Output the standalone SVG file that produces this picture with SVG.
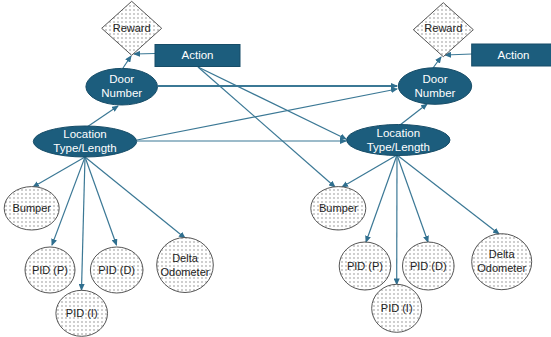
<svg xmlns="http://www.w3.org/2000/svg" width="551" height="337" viewBox="0 0 551 337">
<defs>
<pattern id="dots" width="4" height="4" patternUnits="userSpaceOnUse">
<rect width="4" height="4" fill="#ffffff"/>
<circle cx="2" cy="2" r="0.7" fill="#7a7a7a"/>
</pattern>
<marker id="arr" markerWidth="7" markerHeight="6" refX="6" refY="3" orient="auto" markerUnits="userSpaceOnUse">
<path d="M0,0 L7,3 L0,6 z" fill="#2f6f8f"/>
</marker>
<style>
.dark{fill:#1c5d7d;stroke:#174d68;stroke-width:1}
.dot{fill:url(#dots);stroke:#555555;stroke-width:1}
.wt{font-family:"Liberation Sans",Arial,sans-serif;font-size:11.5px;fill:#ffffff;text-anchor:middle}
.bt{font-family:"Liberation Sans",Arial,sans-serif;font-size:11px;fill:#222222;text-anchor:middle}
.edge{stroke:#3b7895;stroke-width:1.2;fill:none;marker-end:url(#arr)}
</style>
</defs>
<rect width="551" height="337" fill="#ffffff"/>
<g id="connectors">
<line class="edge" x1="87" y1="127" x2="118" y2="106"/>
<line class="edge" x1="123" y1="68" x2="131" y2="56"/>
<line class="edge" x1="155" y1="53.5" x2="134" y2="54"/>
<line class="edge" x1="158" y1="86" x2="397" y2="86" style="stroke-width:1.8"/>
<line class="edge" x1="137" y1="140" x2="397" y2="89"/>
<line class="edge" x1="137" y1="141" x2="346" y2="141"/>
<line class="edge" x1="198" y1="67" x2="346" y2="139"/>
<line class="edge" x1="198" y1="67" x2="335" y2="187"/>
<line class="edge" x1="85" y1="157" x2="33" y2="187"/>
<line class="edge" x1="85" y1="157" x2="52" y2="245"/>
<line class="edge" x1="85" y1="157" x2="81.5" y2="290"/>
<line class="edge" x1="85" y1="157" x2="116.5" y2="245"/>
<line class="edge" x1="85" y1="157" x2="185" y2="238"/>
<line class="edge" x1="400" y1="125" x2="427" y2="104"/>
<line class="edge" x1="433" y1="68" x2="441" y2="57"/>
<line class="edge" x1="472" y1="54" x2="445" y2="55"/>
<line class="edge" x1="397" y1="155" x2="342" y2="187"/>
<line class="edge" x1="397" y1="155" x2="366" y2="242"/>
<line class="edge" x1="397" y1="155" x2="396.7" y2="284.5"/>
<line class="edge" x1="397" y1="155" x2="428" y2="242"/>
<line class="edge" x1="397" y1="155" x2="499" y2="234"/>
</g>
<g id="reward-left">
<polygon class="dot" points="131.7,1.3 161.7,28.3 131.7,55.3 101.7,28.3"/>
<text class="bt" x="131.7" y="32">Reward</text>
</g>
<g id="action-left">
<rect class="dark" x="155" y="44.5" width="85" height="22"/>
<text class="wt" x="197.5" y="59">Action</text>
</g>
<g id="door-left">
<ellipse class="dark" cx="121.7" cy="86.7" rx="35.8" ry="18.3"/>
<text class="wt" x="121.7" y="83">Door</text>
<text class="wt" x="121.7" y="97">Number</text>
</g>
<g id="location-left">
<ellipse class="dark" cx="85" cy="141.5" rx="51.7" ry="15.5"/>
<text class="wt" x="85" y="138">Location</text>
<text class="wt" x="85" y="152">Type/Length</text>
</g>
<g id="bumper-left">
<ellipse class="dot" cx="31.7" cy="208.3" rx="27.5" ry="21.7"/>
<text class="bt" x="31.7" y="212">Bumper</text>
</g>
<g id="pidp-left">
<ellipse class="dot" cx="50" cy="270" rx="25" ry="23"/>
<text class="bt" x="50" y="274">PID (P)</text>
</g>
<g id="pidi-left">
<ellipse class="dot" cx="81.7" cy="313.3" rx="25.8" ry="23"/>
<text class="bt" x="81.7" y="317">PID (I)</text>
</g>
<g id="pidd-left">
<ellipse class="dot" cx="116.7" cy="270" rx="26.3" ry="23"/>
<text class="bt" x="116.7" y="274">PID (D)</text>
</g>
<g id="delta-left">
<ellipse class="dot" cx="185" cy="265" rx="28.3" ry="27.5"/>
<text class="bt" x="185" y="262">Delta</text>
<text class="bt" x="185" y="276">Odometer</text>
</g>
<g id="reward-right">
<polygon class="dot" points="443.3,2.7 473.3,29.7 443.3,56.7 413.3,29.7"/>
<text class="bt" x="443.3" y="32">Reward</text>
</g>
<g id="action-right">
<rect class="dark" x="471.7" y="44" width="85" height="22"/>
<text class="wt" x="513.5" y="58.5">Action</text>
</g>
<g id="door-right">
<ellipse class="dark" cx="435" cy="86" rx="36.7" ry="18.3"/>
<text class="wt" x="435" y="82.5">Door</text>
<text class="wt" x="435" y="96.5">Number</text>
</g>
<g id="location-right">
<ellipse class="dark" cx="398.3" cy="140" rx="51.7" ry="15.5"/>
<text class="wt" x="398.3" y="137">Location</text>
<text class="wt" x="398.3" y="151">Type/Length</text>
</g>
<g id="bumper-right">
<ellipse class="dot" cx="338.3" cy="208.3" rx="27.5" ry="21.7"/>
<text class="bt" x="338.3" y="212">Bumper</text>
</g>
<g id="pidp-right">
<ellipse class="dot" cx="365" cy="266" rx="25.8" ry="24"/>
<text class="bt" x="365" y="270">PID (P)</text>
</g>
<g id="pidi-right">
<ellipse class="dot" cx="396.7" cy="308.3" rx="25" ry="24"/>
<text class="bt" x="396.7" y="312">PID (I)</text>
</g>
<g id="pidd-right">
<ellipse class="dot" cx="428.3" cy="266" rx="25.8" ry="24"/>
<text class="bt" x="428.3" y="270">PID (D)</text>
</g>
<g id="delta-right">
<ellipse class="dot" cx="501.7" cy="261.7" rx="30" ry="28"/>
<text class="bt" x="501.7" y="258">Delta</text>
<text class="bt" x="501.7" y="272">Odometer</text>
</g>
</svg>
